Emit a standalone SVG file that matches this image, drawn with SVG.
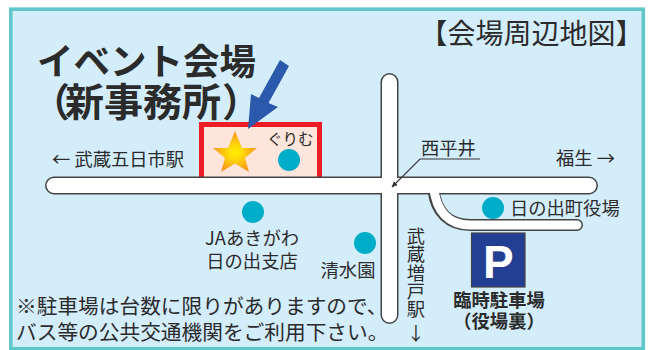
<svg xmlns="http://www.w3.org/2000/svg" width="653" height="350" viewBox="0 0 653 350">
<style>
text{font-family:"Noto Sans CJK JP","Noto Sans",sans-serif;fill:#2b2b2b}
.l{font-size:18.3px}
.m{text-anchor:middle}
.n{font-size:20.700px}
.b{font-weight:700}
.rd{fill:none;stroke-linecap:round;stroke-linejoin:round}
.o{stroke:#444}
.w{stroke:#fff}
.dot{fill:#00adc8}
</style>
<defs>
<radialGradient id="sg" cx="50%" cy="52%" r="50%"><stop offset="0" stop-color="#fff200"/><stop offset="0.35" stop-color="#ffd80a"/><stop offset="1" stop-color="#f7941d"/></radialGradient>
<marker id="ah" markerWidth="6" markerHeight="6" refX="5.500" refY="3" orient="auto" markerUnits="userSpaceOnUse"><path d="M0 0.300L6 3L0 5.700Z" fill="#333"/></marker>
</defs>
<rect width="653" height="350" fill="#fff"/>
<rect id="frame" x="10.8" y="9.2" width="632.5" height="339.5" fill="#d4edfb" stroke="#5fc6c9" stroke-width="3.6"/>
<g id="venue">
<rect x="201.5" y="124.5" width="118" height="56" fill="#fde5dc" stroke="#ee1c25" stroke-width="5"/>
<polygon points="235,131 242,148 257,148 245,158 249,172 235,163.500 221,172 225,158 213,148 228,148" fill="url(#sg)"/>
</g>
<g id="connectors">
<path class="rd o" stroke-width="18" d="M54 185.500H589M389.500 82V315"/>
<path class="rd o" stroke-width="12" d="M433.500 190C436 212 449 225 470 225H577"/>
<path class="rd w" stroke-width="15" d="M54 185.500H589M389.500 82V315"/>
<path class="rd w" stroke-width="9" d="M433.500 186C436 212 449 225 470 225H577"/>
<path d="M480 159H420L392 187" fill="none" stroke="#333" stroke-width="1.100" marker-end="url(#ah)"/>
<polygon points="280,60 289,66 268.500,103 278,107 248,129 251,94 259,98" fill="#2b5aac"/>
</g>
<g id="title">
<text x="37" y="75" font-size="36.500" class="b">イベント会場</text>
<text y="116" font-size="39" class="b"><tspan x="31">（</tspan><tspan x="65">新事務所</tspan><tspan x="222">）</tspan></text>
</g>
<g id="heading"><text x="419.500" y="44" font-size="28">【会場周辺地図】</text></g>
<g id="gurimu"><text x="267" y="145" font-size="15.500">ぐりむ</text><circle class="dot" cx="289" cy="160" r="11"/></g>
<g id="musashi-itsukaichi"><text x="52" y="166" class="l">← 武蔵五日市駅</text></g>
<g id="fukuo"><text x="556" y="165" class="l">福生 →</text></g>
<g id="nishihirai"><text x="421" y="155" class="l">西平井</text></g>
<g id="ja"><circle class="dot" cx="253" cy="212" r="11"/><text x="252" y="245" class="l m">JAあきがわ</text><text x="252" y="268" class="l m">日の出支店</text></g>
<g id="seisuien"><circle class="dot" cx="365" cy="243" r="11"/><text x="348" y="277" class="l m">清水園</text></g>
<g id="yakuba"><circle class="dot" cx="493" cy="208" r="11"/><text x="510" y="215" class="l">日の出町役場</text></g>
<g id="masuko"><text x="416" y="227" class="l" style="writing-mode:vertical-rl;text-anchor:start">武蔵増戸駅</text><text x="416" y="340" class="l m">↓</text></g>
<g id="parking">
<rect x="471.500" y="233" width="53.500" height="54" fill="#233f94" stroke="#444" stroke-width="1.200"/>
<text x="483" y="278" font-size="46" class="b" style="font-family:'Liberation Sans',sans-serif;fill:#fff">P</text>
<text x="499" y="307" class="l m b">臨時駐車場</text>
<text x="499" y="328" class="l m b">（役場裏）</text>
</g>
<g id="note">
<text x="16" y="314" class="n">※駐車場は台数に限りがありますので、</text>
<text x="16" y="340" class="n">バス等の公共交通機関をご利用下さい。</text>
</g>
</svg>
